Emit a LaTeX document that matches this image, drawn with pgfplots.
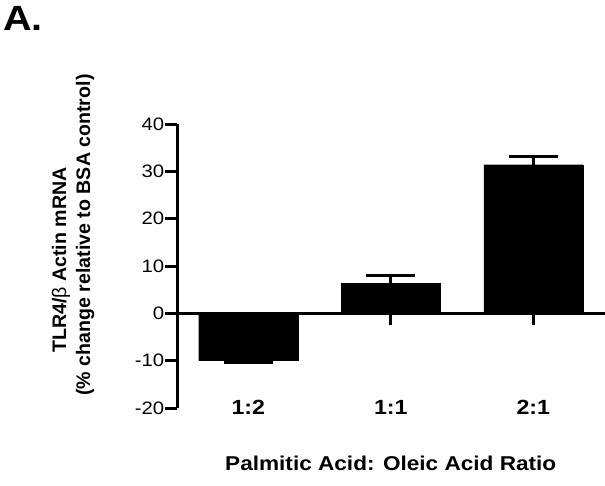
\documentclass[border=0pt]{standalone}
\usepackage{fontspec}
\setmainfont{Liberation Sans}
\newfontfamily\sfs[FakeStretch=1.13]{Liberation Sans}
\usepackage{pgfplots}
\pgfplotsset{compat=1.18}
\pgfplotstableread{
x y e
0 -10 0.3
1 6.4 1.7
2 31.4 1.8
}\datatab
\begin{document}
\begin{tikzpicture}[x=1pt,y=1pt]
\useasboundingbox (0,0) rectangle (605,-485);
\node[anchor=base west, inner sep=0pt, font=\sfs\bfseries\fontsize{35}{40}\selectfont] at (3,-30) {A.};
\begin{axis}[
  at={(177pt,-408pt)}, anchor=south west,
  scale only axis, width=427.5pt, height=284pt,
  xmin=-0.5, xmax=2.5, ymin=-20, ymax=40,
  axis x line*=middle, axis y line*=left,
  hide obscured x ticks=false, hide obscured y ticks=false,
  axis line style={line width=3pt, black},
  tick align=outside, major tick length=11.5pt,
  tick style={line width=3pt, black},
  ytick={-20,-10,0,10,20,30,40},
  yticklabels={-20,-10,0,10,20,30,40},
  yticklabel style={font=\sfs\fontsize{18}{21}\selectfont, inner sep=1pt},
  xtick={0,1,2},
  xticklabels={1:2,1:1,2:1},
  xticklabel style={font=\sfs\bfseries\fontsize{20.5}{24}\selectfont, anchor=base, yshift=-90pt},
  xlabel={Palmitic Acid: Oleic Acid Ratio},
  xlabel style={at={(axis description cs:0.5,0)}, anchor=base, yshift=-62pt, font=\sfs\bfseries\fontsize{20}{24}\selectfont},
  ylabel={TLR4/{\mdseries β} Actin mRNA\hspace*{50pt}\\(\% change relative to BSA control)},
  ylabel style={at={(axis description cs:-0.2433,0.609)}, anchor=center, align=center, font=\bfseries\fontsize{19.6}{24}\selectfont},
  clip=false,
]
\addplot[ybar, bar width=99pt, fill=black, draw=black,
  error bars/.cd, y dir=both, y explicit,
  error bar style={line width=3pt, black},
  error mark options={rotate=90, mark size=24.5pt, line width=3pt, black}]
  table[x=x, y=y, y error=e] {\datatab};
\end{axis}
\end{tikzpicture}
\end{document}
